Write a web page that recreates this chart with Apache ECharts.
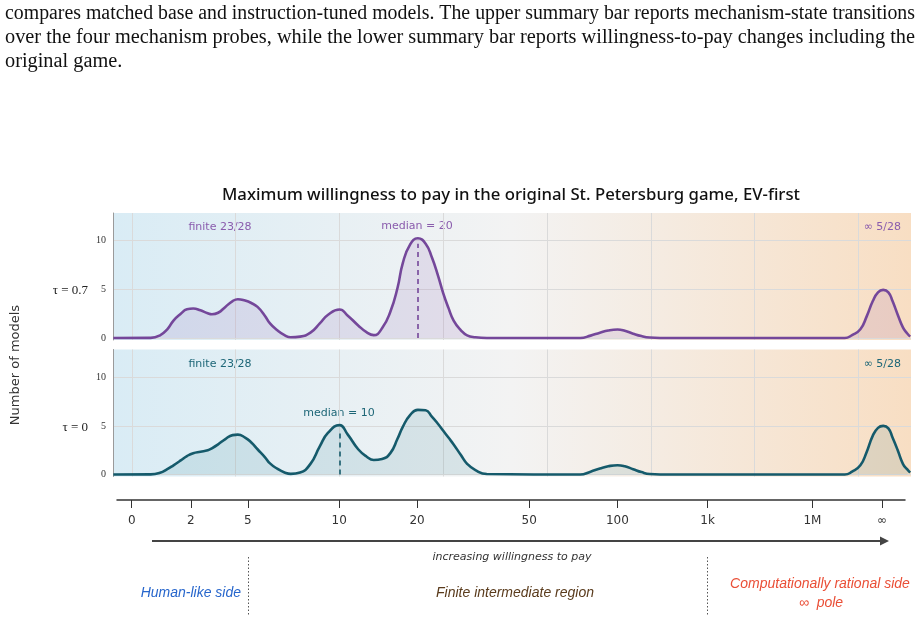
<!DOCTYPE html>
<html>
<head>
<meta charset="utf-8">
<script src="https://cdn.jsdelivr.net/npm/echarts@6/dist/echarts.min.js"></script>
<style>
html, body { margin: 0; padding: 0; background: #fff; }
#chart { width: 920px; height: 623px; }
</style>
</head>
<body>
<div id="chart"></div>
<script>
// positions along the compressed willingness-to-pay axis (one unit = one grid column)
var tickPos = [0, 0.57, 1.12, 2, 2.75, 3.83, 4.68, 5.55, 6.56, 7.23]
var tickLabels = ['0', '2', '5', '10', '20', '50', '100', '1k', '1M', '∞']
var gridCols = [0, 1, 2, 3, 4, 5, 6, 7]
var countTicks = [0, 5, 10]

// sample positions of the two density curves
var xPos = [-0.18, 0.18, 0.27, 0.34, 0.40, 0.47, 0.53, 0.59, 0.66, 0.73, 0.77, 0.83, 0.90, 0.97, 1.02, 1.09, 1.15, 1.21, 1.28, 1.33,
	1.40, 1.47, 1.53, 1.62, 1.72, 1.81, 1.89, 2.00, 2.08, 2.18, 2.26, 2.33, 2.41, 2.49, 2.56, 2.61, 2.68, 2.755, 2.83, 2.89,
	2.95, 3.00, 3.05, 3.10, 3.17, 3.23, 3.31, 3.42, 4.32, 4.42, 4.51, 4.59, 4.68, 4.75, 4.83, 4.91, 4.99, 5.09, 6.87, 6.94,
	7.02, 7.08, 7.14, 7.19, 7.24, 7.29, 7.33, 7.38, 7.43, 7.47, 7.50]
// number of models, tau = 0.7
var yWarm = [0, 0.02, 0.28, 0.9, 1.8, 2.5, 2.95, 3.03, 2.85, 2.55, 2.44, 2.6, 3.2, 3.8, 3.99, 3.85, 3.6, 3.2, 2.3, 1.5,
	0.8, 0.3, 0.08, 0.15, 0.55, 1.5, 2.4, 2.93, 2.3, 1.3, 0.6, 0.3, 1.0, 2.7, 5.2, 7.7, 9.6, 10.25, 9.7, 8.3,
	6.4, 4.6, 3.1, 1.8, 0.8, 0.28, 0.08, 0, 0, 0.25, 0.55, 0.78, 0.88, 0.75, 0.45, 0.2, 0.05, 0, 0, 0.3,
	0.9, 2.2, 3.8, 4.7, 4.95, 4.7, 3.8, 2.4, 1.1, 0.5, 0.15]
// number of models, tau = 0
var yCold = [0, 0.02, 0.18, 0.55, 0.95, 1.45, 1.9, 2.2, 2.35, 2.5, 2.7, 3.1, 3.65, 4.05, 4.1, 3.8, 3.3, 2.6, 1.8, 1.15,
	0.6, 0.22, 0.07, 0.2, 1.1, 2.9, 4.3, 5.08, 4.1, 2.6, 1.85, 1.5, 1.6, 2.2, 3.7, 4.9, 6.1, 6.65, 6.6, 5.95,
	5.2, 4.5, 3.8, 3.1, 2.0, 1.1, 0.45, 0.05, 0, 0.3, 0.62, 0.85, 0.96, 0.85, 0.55, 0.25, 0.05, 0, 0, 0.3,
	0.95, 2.3, 4.0, 4.8, 5.0, 4.75, 3.8, 2.5, 1.1, 0.55, 0.2]

// median marker: [position, top of dashed line]
var medianWarm = [2.755, 9.7]
var medianCold = [2.0, 4.4]

var captionLines = [
	'compares matched base and instruction-tuned models. The upper summary bar reports mechanism-state transitions',
	'over the four mechanism probes, while the lower summary bar reports willingness-to-pay changes including the',
	'original game.'
]
var titleText = 'Maximum willingness to pay in the original St. Petersburg game, EV-first'

var purple = '#74479a'
var teal = '#155a6b'

function zip(xs, ys) {
	return xs.map(function (x, i) { return [x, ys[i]] })
}

var ctx = document.createElement('canvas').getContext('2d')
function fitScale(text, font, width) {
	ctx.font = font
	return width / ctx.measureText(text).width
}

var bg = {
	type: 'linear', x: 0, y: 0, x2: 1, y2: 0,
	colorStops: [
		{ offset: 0, color: '#d9ecf5' },
		{ offset: 0.5, color: '#f3f3f3' },
		{ offset: 1, color: '#f8dec3' }
	]
}

function panelX(idx) {
	return {
		type: 'value', gridIndex: idx, min: -0.183, max: 7.508,
		axisLine: { show: false },
		axisTick: { show: false, customValues: gridCols },
		axisLabel: { show: false },
		splitLine: { show: true, lineStyle: { color: '#dadada', width: 1 } }
	}
}
function panelY(idx) {
	return {
		type: 'value', gridIndex: idx, min: -0.2, max: 12.85,
		axisLine: { show: true, onZero: false, lineStyle: { color: '#9a9a9a', width: 1 } },
		axisTick: { show: false, customValues: countTicks },
		axisLabel: { customValues: countTicks, fontFamily: 'Liberation Serif', fontSize: 10, color: '#333', margin: 7 },
		splitLine: { show: true, lineStyle: { color: '#dadada', width: 1 } }
	}
}

function densitySeries(idx, ys, color, fill, median) {
	return {
		type: 'line', xAxisIndex: idx, yAxisIndex: idx,
		data: zip(xPos, ys),
		smooth: 0.5, symbol: 'none',
		lineStyle: { color: color, width: 2.6 },
		areaStyle: { color: fill },
		markLine: {
			silent: true, symbol: 'none',
			label: { show: false },
			lineStyle: { color: color, type: [5, 4], width: 1.6 },
			data: [[{ coord: [median[0], 0] }, { coord: [median[0], median[1]] }]]
		}
	}
}

function txt(x, y, text, font, fill, align, scaleX) {
	return {
		type: 'text', x: x, y: y, scaleX: scaleX || 1,
		style: {
			text: text, font: font, fill: fill,
			textAlign: align || 'center', align: align || 'center',
			textVerticalAlign: 'middle', verticalAlign: 'middle'
		}
	}
}

var capFont = '20px "Liberation Serif"'
var capScale = fitScale(captionLines[0], capFont, 910)
var capScale2 = fitScale(captionLines[1], capFont, 910)
var titleFont = '500 17px "Noto Sans"'
var titleScale = fitScale(titleText, titleFont, 578)
var small = '11px "DejaVu Sans"'

var graphics = [
	txt(5, 14, captionLines[0], capFont, '#111', 'left', capScale),
	txt(5, 38, captionLines[1], capFont, '#111', 'left', capScale2),
	txt(5, 62, captionLines[2], capFont, '#111', 'left', capScale2),
	txt(511, 195, titleText, titleFont, '#111', 'center', titleScale),
	{
		type: 'text', x: 16, y: 365, rotation: Math.PI / 2,
		style: { text: 'Number of models', font: '13px "DejaVu Sans"', fill: '#333', textAlign: 'center', align: 'center', textVerticalAlign: 'middle', verticalAlign: 'middle' }
	},
	txt(88, 291, 'τ = 0.7', '13px "Liberation Serif"', '#222', 'right'),
	txt(88, 428, 'τ = 0', '13px "Liberation Serif"', '#222', 'right'),
	txt(220, 227, 'finite 23/28', small, '#8a5cad'),
	txt(417, 226, 'median = 20', small, '#8a5cad'),
	txt(901, 227, '∞ 5/28', small, '#8a5cad', 'right'),
	txt(220, 364, 'finite 23/28', small, '#1d6677'),
	txt(339, 413, 'median = 10', small, '#1d6677'),
	txt(901, 364, '∞ 5/28', small, '#1d6677', 'right'),
	{ type: 'line', shape: { x1: 152, y1: 541, x2: 882, y2: 541 }, style: { stroke: '#444', lineWidth: 2 } },
	{ type: 'polygon', shape: { points: [[889, 541], [880, 536.5], [880, 545.5]] }, style: { fill: '#444' } },
	txt(512, 557, 'increasing willingness to pay', 'italic 11px "DejaVu Sans"', '#333'),
	{ type: 'line', shape: { x1: 248.5, y1: 557, x2: 248.5, y2: 615 }, style: { stroke: '#555', lineWidth: 1, lineDash: [1.5, 2] } },
	{ type: 'line', shape: { x1: 707.5, y1: 557, x2: 707.5, y2: 615 }, style: { stroke: '#555', lineWidth: 1, lineDash: [1.5, 2] } },
	txt(241, 593, 'Human-like side', 'italic 14px "Liberation Sans"', '#2766cc', 'right'),
	txt(515, 593, 'Finite intermediate region', 'italic 14px "Liberation Sans"', '#5a3b1c'),
	txt(820, 584, 'Computationally rational side', 'italic 14px "Liberation Sans"', '#ea4f37'),
	txt(821, 603, '∞  pole', 'italic 14px "Liberation Sans"', '#ea4f37')
]

var chart = echarts.init(document.getElementById('chart'))
chart.setOption({
	animation: false,
	backgroundColor: '#fff',
	grid: [
		{ left: 113, top: 213, width: 798, height: 127, show: true, backgroundColor: bg, borderWidth: 0 },
		{ left: 113, top: 349.5, width: 798, height: 127, show: true, backgroundColor: bg, borderWidth: 0 },
		{ left: 117, top: 499, width: 788, height: 1 }
	],
	xAxis: [
		panelX(0),
		panelX(1),
		{
			type: 'value', gridIndex: 2, min: -0.1416, max: 7.4518,
			axisLine: { show: true, lineStyle: { color: '#333', width: 1.5 } },
			axisTick: { show: true, customValues: tickPos, length: 8, lineStyle: { color: '#333', width: 1 } },
			axisLabel: {
				customValues: tickPos, margin: 15, fontFamily: 'DejaVu Sans', fontSize: 12, color: '#333',
				formatter: function (val) {
					var best = 0
					tickPos.forEach(function (p, i) { if (Math.abs(p - val) < Math.abs(tickPos[best] - val)) best = i })
					return tickLabels[best]
				}
			},
			splitLine: { show: false }
		}
	],
	yAxis: [
		panelY(0),
		panelY(1),
		{ type: 'value', gridIndex: 2, show: false, min: 0, max: 1 }
	],
	series: [
		densitySeries(0, yWarm, purple, 'rgba(140,90,178,0.2)', medianWarm),
		densitySeries(1, yCold, teal, 'rgba(30,110,130,0.16)', medianCold)
	],
	graphic: graphics
})
</script>
</body>
</html>
